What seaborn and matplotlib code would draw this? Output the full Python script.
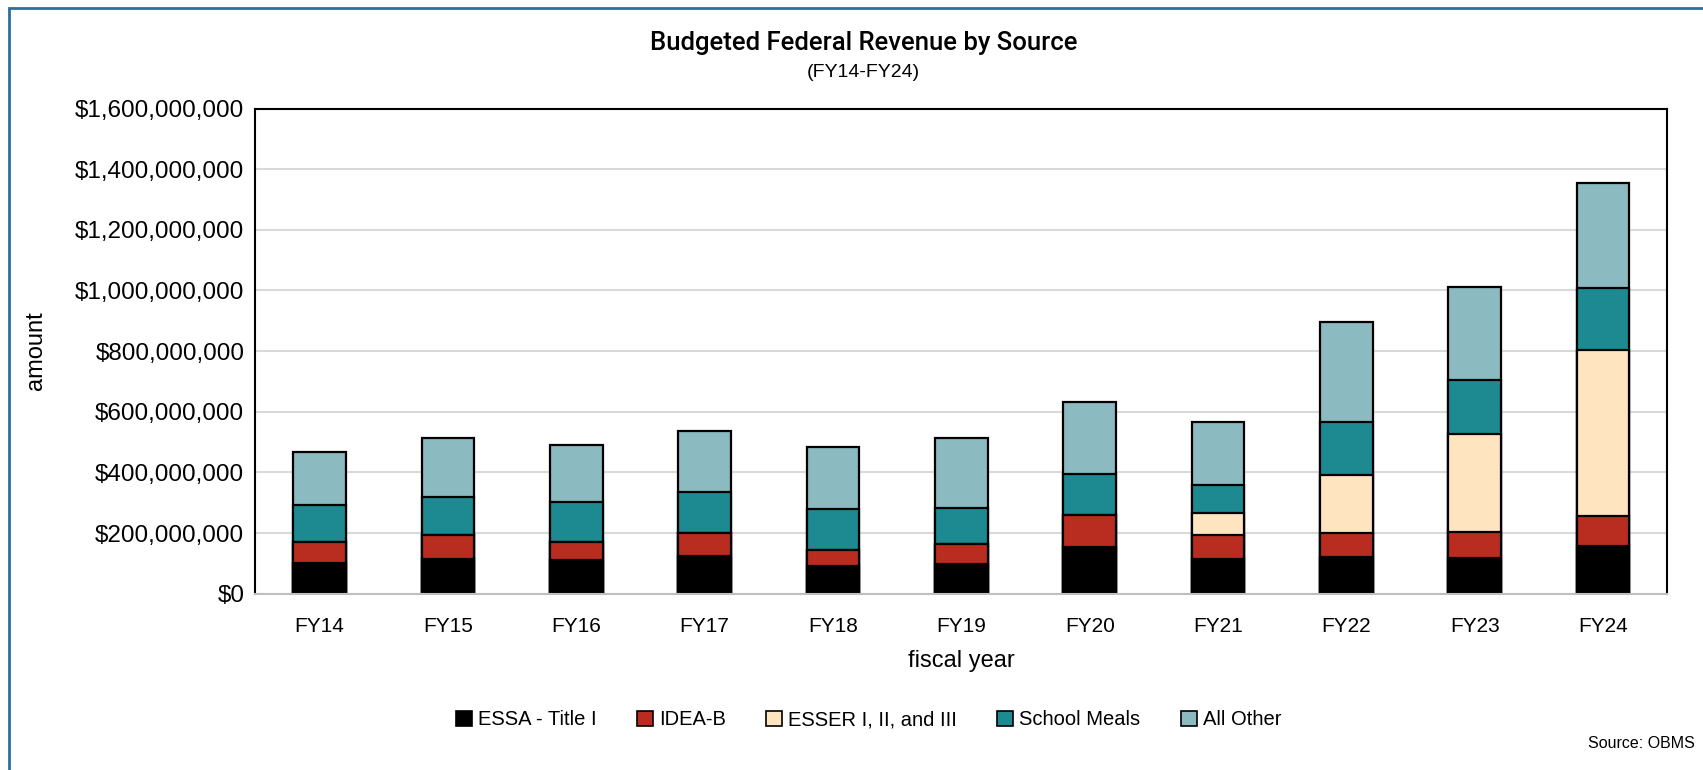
import numpy as np
import pandas as pd
import matplotlib
matplotlib.use("Agg")
import matplotlib.pyplot as plt
from matplotlib.patches import Patch, Rectangle
from matplotlib.ticker import FuncFormatter
import seaborn as sns

# values, in $ millions
years = ["FY14", "FY15", "FY16", "FY17", "FY18", "FY19", "FY20", "FY21", "FY22", "FY23", "FY24"]
essa_title1 = [102, 115, 111, 124, 92, 97, 155, 114, 122, 119, 158]
idea_b = [68, 78, 58, 77, 51, 66, 103, 81, 77, 86, 97]
esser = [0, 0, 0, 0, 0, 0, 0, 72, 194, 321, 550]
school_meals = [122, 127, 133, 135, 135, 121, 138, 90, 173, 178, 204]
all_other = [176, 192, 190, 202, 207, 230, 235, 209, 330, 307, 345]

series_names = ["ESSA - Title I", "IDEA-B", "ESSER I, II, and III", "School Meals", "All Other"]
colors = ["#000000", "#B92D20", "#FFE4C0", "#1D8A92", "#8BBAC1"]

df = pd.DataFrame({
    "year": years,
    "ESSA - Title I": essa_title1,
    "IDEA-B": idea_b,
    "ESSER I, II, and III": esser,
    "School Meals": school_meals,
    "All Other": all_other,
})
# stack: cumulative sums in dollars
cum = df[series_names].cumsum(axis=1) * 1e6

plt.rcParams['font.family'] = ['Liberation Sans', 'DejaVu Sans']
fig = plt.figure(figsize=(17.03, 7.70), dpi=100)
ax = fig.add_axes([0.150, 0.229, 0.829, 0.630])

# draw tallest layer first, then cover with lower cumulative layers
for name, col in reversed(list(zip(series_names, colors))):
    sns.barplot(x=df["year"], y=cum[name], color=col, width=0.41,
                edgecolor="black", linewidth=1.6, ax=ax, saturation=1)

ax.set_ylim(0, 1.6e9)
ax.set_yticks(np.arange(0, 1.6e9 + 1, 2e8))
ax.yaxis.set_major_formatter(FuncFormatter(lambda v, p: f"${v:,.0f}"))
ax.grid(axis="y", color="#D9D9D9", linewidth=1.5)
ax.set_axisbelow(True)
ax.tick_params(axis="both", length=0)
ax.tick_params(axis="y", pad=8, labelsize=17.5)
ax.tick_params(axis="x", pad=17, labelsize=15)
for s in ["left", "top", "right"]:
    ax.spines[s].set_color("black")
    ax.spines[s].set_linewidth(1.5)
ax.spines["bottom"].set_color("#BFBFBF")
ax.spines["bottom"].set_linewidth(1.5)
ax.set_xlabel("fiscal year", fontsize=17, labelpad=10)
ax.set_ylabel("amount", fontsize=17, labelpad=20)

fig.text(0.507, 0.944, "Budgeted Federal Revenue by Source", ha="center", va="center",
         fontsize=18.5, fontweight="medium", family=["Roboto", "DejaVu Sans"])
fig.text(0.507, 0.906, "(FY14-FY24)", ha="center", va="center", fontsize=14)

handles = [Patch(facecolor=c, edgecolor="black", linewidth=1.2, label=n)
           for n, c in zip(series_names, colors)]
fig.legend(handles=handles, loc="center", bbox_to_anchor=(0.51, 0.065), ncol=5,
           frameon=False, fontsize=14.5, handlelength=0.8, handleheight=0.8,
           handletextpad=0.3, columnspacing=2.0)

fig.text(0.995, 0.034, "Source: OBMS", ha="right", va="center", fontsize=11.5)

fig.patches.append(Rectangle((0.005, -0.05), 1.2, 1.04, transform=fig.transFigure,
                             fill=False, edgecolor="#2E6E9E", linewidth=2))

fig.savefig("out.png", dpi=100)
